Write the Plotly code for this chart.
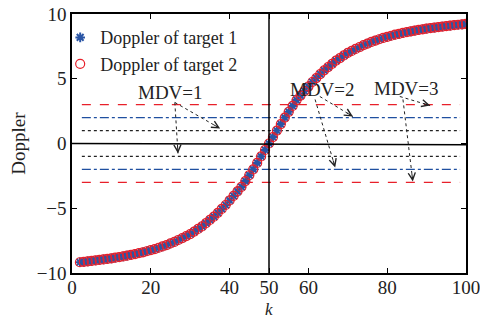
import math
import plotly.graph_objects as go

k = list(range(2, 101))
doppler_t1 = [-9.17, -9.14, -9.10, -9.07, -9.03, -8.99, -8.95, -8.91, -8.87, -8.82,
              -8.77, -8.72, -8.66, -8.60, -8.54, -8.47, -8.40, -8.32, -8.24, -8.15,
              -8.05, -7.95, -7.84, -7.72, -7.60, -7.45, -7.30, -7.15, -7.00, -6.80,
              -6.60, -6.40, -6.15, -5.90, -5.65, -5.35, -5.05, -4.75, -4.40, -4.05,
              -3.70, -3.35, -2.90, -2.45, -2.00, -1.50, -1.00, -0.50, 0.00,
              0.50, 1.00, 1.50, 2.00, 2.45, 2.90, 3.35, 3.70, 4.05, 4.40,
              4.75, 5.05, 5.35, 5.65, 5.90, 6.15, 6.40, 6.60, 6.80, 7.00,
              7.15, 7.30, 7.45, 7.60, 7.72, 7.84, 7.95, 8.05, 8.15, 8.24,
              8.32, 8.40, 8.47, 8.54, 8.60, 8.66, 8.72, 8.77, 8.82, 8.87,
              8.91, 8.95, 8.99, 9.03, 9.07, 9.10, 9.14, 9.17, 9.20, 9.23]
doppler_t2 = list(doppler_t1)

mdv_levels = [1, 2, 3]
mdv_colors = ["#222222", "#1f4fa0", "#e8202a"]
mdv_dash = ["dot", "dashdot", "dash"]
x_ticks = [0, 20, 40, 50, 60, 80, 100]
y_ticks = [-10, -5, 0, 5, 10]

FONT = "Liberation Serif"
FS = 19
W, H = 480, 320
ML, MR, MT, MB = 72, 14, 14, 47
px_per_x = (W - ML - MR) / 100.0
px_per_y = (H - MT - MB) / 20.0

fig = go.Figure()

# threshold lines
for lvl, col, dsh in zip(mdv_levels, mdv_colors, mdv_dash):
    for s in (1, -1):
        fig.add_shape(type="line", x0=2.5, x1=98.5, y0=s * lvl, y1=s * lvl,
                      line=dict(color=col, width=1.3, dash=dsh), layer="below")

# axes cross lines
fig.add_shape(type="line", x0=0, x1=100, y0=0, y1=-0.1, line=dict(color="black", width=1.5))
fig.add_shape(type="line", x0=50, x1=50, y0=-10, y1=10, line=dict(color="black", width=1.5))

fig.add_trace(go.Scatter(x=k, y=doppler_t1, mode="markers", name="Doppler of target 1",
                         marker=dict(symbol="asterisk-open", size=8, color="#2a55a5",
                                     line=dict(color="#2a55a5", width=2))))
fig.add_trace(go.Scatter(x=k, y=doppler_t2, mode="markers", name="Doppler of target 2",
                         marker=dict(symbol="circle-open", size=9, color="#e8202a",
                                     line=dict(color="#e8202a", width=1.2))))

# MDV annotations: labels, dotted leader lines, arrowheads
labels = [("MDV=1", 24.9, 3.94), ("MDV=2", 63.7, 4.15), ("MDV=3", 85.0, 4.25)]
for txt, x, y in labels:
    fig.add_annotation(x=x, y=y, text=txt, showarrow=False,
                       font=dict(family=FONT, size=FS, color="#222"))

arrows = [((26.1, 3.17), (37.6, 1.16)), ((26.1, 3.17), (26.9, -0.77)),
          ((62.9, 3.63), (71.3, 2.08)), ((61.7, 3.40), (66.8, -1.85)),
          ((83.2, 3.63), (90.9, 2.93)), ((84.0, 3.40), (86.5, -2.93))]
for (x0, y0), (x1, y1) in arrows:
    fig.add_shape(type="line", x0=x0, y0=y0, x1=x1, y1=y1,
                  line=dict(color="#222", width=1, dash="dot"))
    dxp = (x1 - x0) * px_per_x
    dyp = -(y1 - y0) * px_per_y
    n = math.hypot(dxp, dyp)
    fig.add_annotation(x=x1, y=y1, ax=-dxp / n * 9, ay=-dyp / n * 9,
                       xref="x", yref="y", text="",
                       showarrow=True, arrowhead=5, arrowsize=1.4, arrowwidth=1,
                       arrowcolor="#222")

# x-axis title as annotation, sitting on the bottom edge of the figure
fig.add_annotation(x=50, y=-MB / (H - MT - MB), xref="x", yref="paper", yanchor="bottom",
                   text="<i>k</i>", showarrow=False, borderpad=0,
                   font=dict(family=FONT, size=17, color="#222"))

axis_common = dict(showgrid=False, zeroline=False, showline=True, mirror="ticks",
                   linecolor="black", linewidth=1.5, ticks="inside", ticklen=5,
                   tickcolor="black", automargin=False, ticklabeloverflow="allow",
                   tickfont=dict(family=FONT, size=FS, color="#222"))
fig.update_xaxes(range=[0, 100], tickvals=x_ticks, ticklabelstandoff=-4, **axis_common)
fig.update_yaxes(range=[-10, 10], tickvals=y_ticks,
                 ticktext=["\u221210", "\u22125", "0", "5", "10"], **axis_common,
                 title=dict(text="Doppler", font=dict(family=FONT, size=FS, color="#222"),
                            standoff=6))

fig.update_layout(width=W, height=H, margin=dict(l=ML, r=MR, t=MT, b=MB),
                  plot_bgcolor="white", paper_bgcolor="white",
                  legend=dict(x=-0.03, y=0.98, xanchor="left", yanchor="top",
                              bgcolor="rgba(0,0,0,0)", itemwidth=30, tracegroupgap=0,
                              font=dict(family=FONT, size=18, color="#222")))

fig.write_html("out.html")
